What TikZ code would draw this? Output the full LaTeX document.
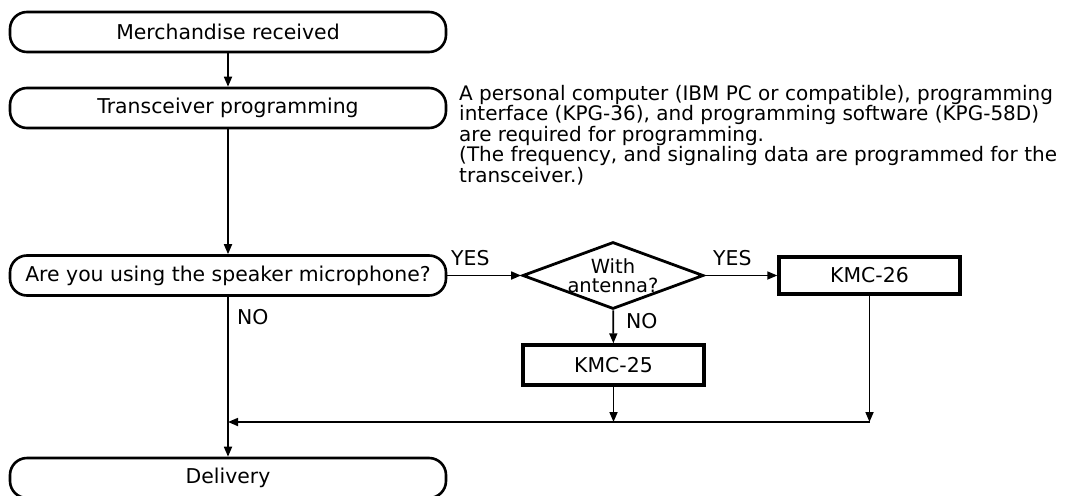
\documentclass[tikz,border=0pt]{standalone}
\usepackage{fontspec}
\setmainfont{DejaVu Sans}
\usetikzlibrary{arrows.meta,shapes.geometric}
\tikzset{
  startstop/.style={draw,line width=2.6pt,rounded corners=17pt,minimum width=436pt,minimum height=40pt,inner sep=0pt},
  process/.style={draw,line width=3.4pt,minimum width=181pt,minimum height=37pt,inner sep=0pt},
  decision/.style={draw,diamond,line width=2.8pt,aspect=2.7,minimum width=181pt,minimum height=67pt,inner sep=-3pt,align=center,
    font=\fontsize{19.5}{19.5}\selectfont},
  flow/.style={line width=1.7pt,-{Triangle[length=10pt,width=8pt]}},
  answer/.style={anchor=base west,inner sep=0pt}
}
\begin{document}
\begin{tikzpicture}[x=1pt,y=-1pt,font=\fontsize{20.4}{20.5}\selectfont]
\useasboundingbox (0,0) rectangle (1067,495);
% main column
\node[startstop] (recv) at (228,32) {Merchandise received};
\node[startstop] (prog) at (228,108) {Transceiver programming};
\node[startstop] (mic) at (228,275.5) {Are you using the speaker microphone?};
\node[startstop] (deliv) at (228,478) {Delivery};
% speaker microphone branch
\node[decision] (ant) at (613,275.5) {With\\antenna?};
\node[process] (kmc26) at (869.5,275.5) {KMC-26};
\node[process,minimum height=40pt] (kmc25) at (613.5,365) {KMC-25};
\node[anchor=north west,align=left,inner sep=0pt,font=\fontsize{20}{20.5}\selectfont] (note) at (459,85)
{A personal computer (IBM PC or compatible), programming\\
interface (KPG-36), and programming software (KPG-58D)\\
are required for programming.\\
(The frequency, and signaling data are programmed for the\\
transceiver.)};
\node[answer] (yesmic) at (451,265) {YES};
\node[answer] (yesant) at (713,265) {YES};
\node[answer] (nomic) at (237,324) {NO};
\node[answer] (noant) at (626,328) {NO};
\coordinate (jl) at (228,422);
\coordinate (jm) at (613.5,422);
\coordinate (jr) at (869.5,422);
\draw[flow] (recv) -- (prog);
\draw[flow] (prog) -- (mic);
\draw[flow] (mic) -- (deliv);
\draw[flow] (mic) -- (ant);
\draw[flow] (ant) -- (kmc26);
\draw[flow] (ant) -- (kmc25);
\draw[flow] (kmc25) -- (jm);
\draw[flow] (kmc26) -- (jr);
\draw[flow] (jr) -- (jl);
\end{tikzpicture}
\end{document}
